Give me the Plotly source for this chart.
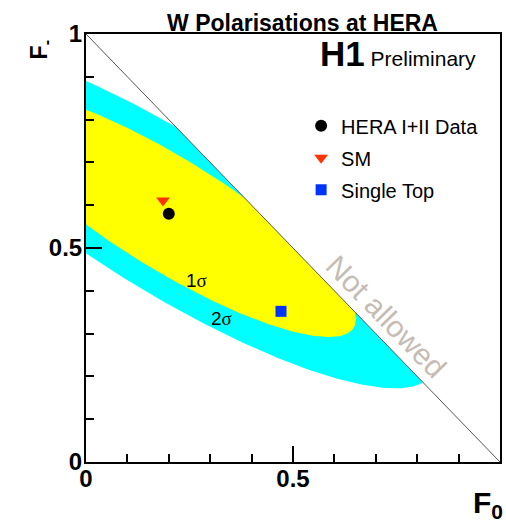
import numpy as np
import plotly.graph_objects as go

# ---------------- data ----------------
# fit result: W polarisation fractions measured at HERA
F0_fit = 0.20
Fm_fit = 0.58
sigma_F0 = 0.298
sigma_Fm = 0.190
rho_fit = -0.854
contour_dchi2 = [4.61, 2.30]          # drawn outer first: 2 sigma, 1 sigma
contour_names = ["2σ", "1σ"]
contour_colors = ["#00ffff", "#ffff00"]
contour_label_F0 = [0.328, 0.267]
contour_label_Fm = [0.336, 0.424]

# predictions
sm_F0 = [0.186]
sm_Fm = [0.611]
top_F0 = [0.471]
top_Fm = [0.352]
data_F0 = [F0_fit]
data_Fm = [Fm_fit]

# physical bound F0 + F- <= 1
bound_F0 = [0.0, 1.0]
bound_Fm = [1.0, 0.0]

tick_vals = [0, 0.5, 1]
tick_text = ["0", "0.5", "1"]

FONT = "Liberation Sans, Arial, Helvetica, sans-serif"

fig = go.Figure()

# confidence contours from the fit covariance
cov = np.array([[sigma_F0**2, rho_fit * sigma_F0 * sigma_Fm],
                [rho_fit * sigma_F0 * sigma_Fm, sigma_Fm**2]])
L = np.linalg.cholesky(cov)
t = np.linspace(0, 2 * np.pi, 400)
circle = np.vstack([np.cos(t), np.sin(t)])
for lvl, name, col in zip(contour_dchi2, contour_names, contour_colors):
    pts = np.sqrt(lvl) * (L @ circle)
    fig.add_trace(go.Scatter(x=F0_fit + pts[0], y=Fm_fit + pts[1], mode="lines",
                             fill="toself", fillcolor=col, line=dict(width=0, color=col),
                             hoverinfo="skip", showlegend=False))

# mask the forbidden region F0 + F- > 1
fig.add_trace(go.Scatter(x=bound_F0 + [1.5, 0.0], y=bound_Fm + [1.5, 1.5], mode="lines",
                         fill="toself", fillcolor="white", line=dict(width=0, color="white"),
                         hoverinfo="skip", showlegend=False))
fig.add_trace(go.Scatter(x=bound_F0, y=bound_Fm, mode="lines",
                         line=dict(color="#555555", width=1),
                         hoverinfo="skip", showlegend=False))

# points
fig.add_trace(go.Scatter(x=data_F0, y=data_Fm, mode="markers", name="HERA I+II Data",
                         marker=dict(symbol="circle", size=12, color="black"),
                         legendgroup="a"))
fig.add_trace(go.Scatter(x=sm_F0, y=sm_Fm, mode="markers", name="SM",
                         marker=dict(symbol="triangle-down", size=12, color="#ff3300"),
                         legendgroup="b"))
fig.add_trace(go.Scatter(x=top_F0, y=top_Fm, mode="markers", name="Single Top",
                         marker=dict(symbol="square", size=11, color="#0033ff"),
                         legendgroup="c"))

annotations = []
for name, lx, ly in zip(contour_names, contour_label_F0, contour_label_Fm):
    annotations.append(dict(x=lx, y=ly, xref="x", yref="y", showarrow=False,
                            text=name[0] + "<span style='font-family:Liberation Serif'>σ</span>",
                            font=dict(family=FONT, size=19, color="black")))
annotations += [
    dict(x=0.7253, y=0.3404, xref="x", yref="y", showarrow=False, text="Not allowed",
         textangle=45.8, font=dict(family=FONT, size=30, color="#c5bcb5")),
    dict(x=0.561, y=0.954, xref="paper", yref="paper", xanchor="left", yanchor="middle",
         showarrow=False,
         text="<b>H1</b><span style='font-size:21px'> Preliminary</span>",
         font=dict(family=FONT, size=35, color="black")),
    dict(x=1.0, y=-0.061, xref="paper", yref="paper", xanchor="right", yanchor="top",
         xshift=5, yshift=4,
         showarrow=False, text="<b>F<sub>0</sub></b>",
         font=dict(family=FONT, size=30, color="black")),
    dict(x=-0.1107, y=0.962, xref="paper", yref="paper", xanchor="center", yanchor="middle",
         showarrow=False, text="<b>F<sub>-</sub></b>", textangle=-90,
         font=dict(family=FONT, size=23, color="black")),
]

axis_common = dict(range=[0, 1], showgrid=False, zeroline=False, showline=True,
                   linecolor="black", linewidth=2, mirror=True,
                   ticks="inside", ticklen=16, tickwidth=1.5, tickcolor="black",
                   tickvals=tick_vals, ticktext=tick_text,
                   minor=dict(ticks="inside", dtick=0.1, ticklen=8, tickwidth=1.5,
                              tickcolor="black", showgrid=False),
                   tickfont=dict(family=FONT, size=24, color="black", weight="bold"),
                   fixedrange=True)

fig.update_layout(
    width=506, height=527,
    margin=dict(l=86, r=4, t=34, b=65),
    paper_bgcolor="white", plot_bgcolor="white",
    xaxis=dict(**axis_common, ticklabelstandoff=-6),
    yaxis=dict(**axis_common, ticklabelstandoff=-3),
    title=dict(text="<b>W Polarisations at HERA</b>", x=0.523, xref="paper", xanchor="center",
               y=1 - 23 / 527, yref="container", yanchor="middle",
               font=dict(family=FONT, size=23, color="black")),
    legend=dict(x=0.5196, y=0.831, xanchor="left", yanchor="top", bgcolor="rgba(0,0,0,0)",
                borderwidth=0, font=dict(family=FONT, size=20, color="black"),
                tracegroupgap=3),
    annotations=annotations,
    showlegend=True,
)

fig.write_html(
    "out.html",
    config={"responsive": False, "displayModeBar": False},
    post_script="document.body.style.margin='0';document.body.style.overflow='hidden';",
)
